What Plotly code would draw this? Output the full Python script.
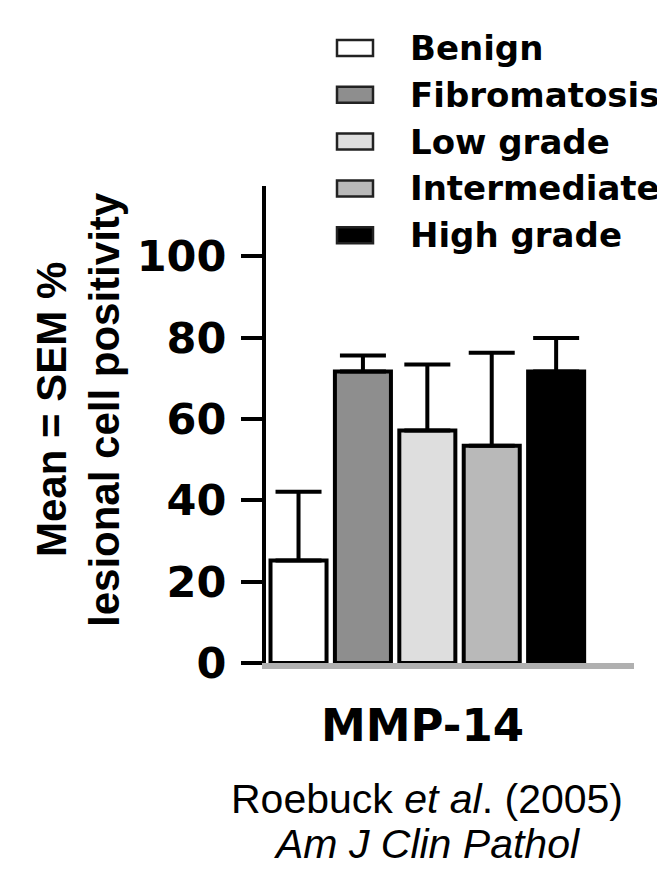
import plotly.graph_objects as go

# ---- data ----
categories = ["Benign", "Fibromatosis", "Low grade", "Intermediate", "High grade"]
mean_values = [25.2, 71.7, 57.2, 53.4, 71.7]
sem_values = [16.9, 3.9, 16.2, 22.9, 8.2]
y_tick_values = [0, 20, 40, 60, 80, 100]
group_label = "MMP-14"
y_title_lines = ["Mean = SEM %", "lesional cell positivity"]
citation_lines = ["Roebuck <i>et al</i>. (2005)", "<i>Am J Clin Pathol</i>"]

# ---- styles ----
bar_colors = ["#ffffff", "#8e8e8e", "#dedede", "#b9b9b9", "#000000"]
OFF = 8  # page body margin in the browser
W, H = 665 - OFF, 886 - OFF
# plot area in screen pixels
SL, SR, ST, SB = 266, 634, 186, 663
L, R, T, B = SL - OFF, SR - OFF, ST - OFF, SB - OFF


def px(x):
    return (x - SL) / (SR - SL)


def py(y):
    return (SB - y) / (SB - ST)


bold_wide = dict(family="DejaVu Sans", weight="bold", color="black")

fig = go.Figure()
fig.add_trace(go.Bar(
    x=categories,
    y=mean_values,
    marker=dict(color=bar_colors, line=dict(color="black", width=4)),
    error_y=dict(type="data", array=sem_values, arrayminus=[0] * len(sem_values),
                 symmetric=False, color="black", thickness=4, width=23),
    showlegend=False,
))

annotations = []
shapes = []

# legend (manual, to match large swatches)
for i, (name, col) in enumerate(zip(categories, bar_colors)):
    cy = 48 + i * 46.8
    shapes.append(dict(type="rect", xref="paper", yref="paper",
                       x0=px(337), x1=px(373), y0=py(cy + 8), y1=py(cy - 8),
                       fillcolor=col, line=dict(color="#222222", width=2.5)))
    annotations.append(dict(text=name, xref="paper", yref="paper",
                            x=px(408), y=py(cy), xanchor="left", yanchor="middle",
                            showarrow=False, font=dict(size=34, **bold_wide)))

# group label
annotations.append(dict(text=group_label, xref="x", yref="paper", x=2, y=py(725),
                        xanchor="center", yanchor="middle", showarrow=False, xshift=-5,
                        font=dict(size=45, **bold_wide)))

# y title (two lines)
for text, cx in zip(y_title_lines, [51, 104]):
    annotations.append(dict(text=text, xref="paper", yref="paper", x=px(cx), y=py(410),
                            xanchor="center", yanchor="middle", textangle=-90,
                            showarrow=False,
                            font=dict(family="Liberation Sans", weight="bold", size=42, color="black")))

# citation
for text, cy in zip(citation_lines, [799, 844]):
    annotations.append(dict(text=text, xref="paper", yref="paper", x=px(427), y=py(cy),
                            xanchor="center", yanchor="middle", showarrow=False,
                            font=dict(family="Liberation Sans", size=41, color="black")))

fig.update_layout(
    width=W, height=H,
    margin=dict(l=L, r=W - R, t=T, b=H - B, pad=0),
    paper_bgcolor="white", plot_bgcolor="white",
    bargap=0.13,
    annotations=annotations,
    shapes=shapes,
    xaxis=dict(type="category", categoryorder="array", categoryarray=categories,
               range=[-0.505, 5.209], showticklabels=False, ticks="",
               showline=True, linecolor="#b0b0b0", linewidth=6,
               showgrid=False, zeroline=False, fixedrange=True),
    yaxis=dict(range=[0, 117.3], tickvals=y_tick_values, ticks="outside",
               ticklen=21, tickwidth=4, tickcolor="black",
               showline=True, linecolor="black", linewidth=4,
               showgrid=False, zeroline=False, ticklabelstandoff=6,
               tickfont=dict(size=43, **bold_wide), fixedrange=True),
)

fig.write_html("out.html")
